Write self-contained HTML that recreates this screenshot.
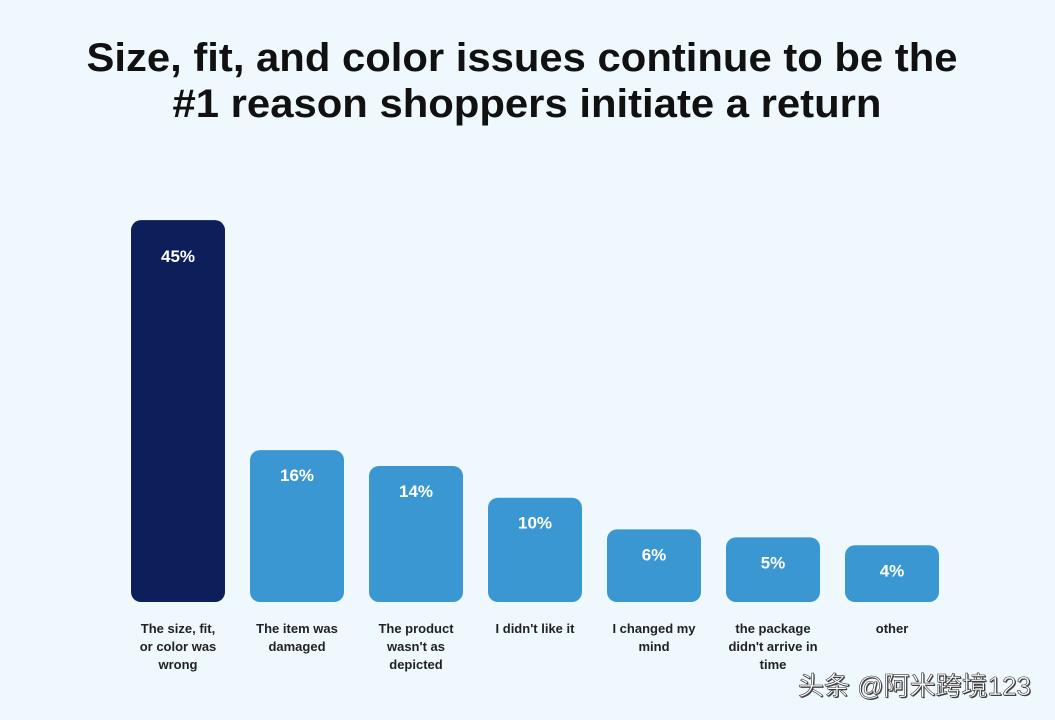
<!DOCTYPE html>
<html><head><meta charset="utf-8"><style>
html,body{margin:0;padding:0;background:#eef8fd;}
svg{display:block;font-family:"Liberation Sans","Noto Sans CJK SC",sans-serif;}
</style></head><body>
<svg width="1055" height="720" viewBox="0 0 1055 720">
<rect width="1055" height="720" fill="#eef8fd"/>
<text x="522" y="71" text-anchor="middle" font-size="40" font-weight="bold" fill="#111" textLength="871" lengthAdjust="spacingAndGlyphs">Size, fit, and color issues continue to be the</text>
<text x="527" y="117" text-anchor="middle" font-size="40" font-weight="bold" fill="#111" textLength="709" lengthAdjust="spacingAndGlyphs">#1 reason shoppers initiate a return</text>
<g id="bars"></g>
<text x="1031" y="695" text-anchor="end" font-size="26" fill="#444" transform="translate(1,1)">头条 @阿米跨境123</text>
<text x="1031" y="695" text-anchor="end" font-size="26" fill="#fff" stroke="#333" stroke-width="0.6">头条 @阿米跨境123</text>
</svg>
<script>
const categories=[["The size, fit,","or color was","wrong"],["The item was","damaged"],["The product","wasn't as","depicted"],["I didn't like it"],["I changed my","mind"],["the package","didn't arrive in","time"],["other"]];
const values=[45,16,14,10,6,5,4];
const valueLabels=["45%","16%","14%","10%","6%","5%","4%"];
const NS="http://www.w3.org/2000/svg";
const g=document.getElementById('bars');
const baseY=602, x0=131, step=119, bw=94;
function yScale(v){return baseY-(25+7.93*v);}
values.forEach((v,i)=>{
  const x=x0+i*step, y=yScale(v);
  const r=document.createElementNS(NS,'rect');
  r.setAttribute('x',x);r.setAttribute('y',y);r.setAttribute('width',bw);r.setAttribute('height',baseY-y);
  r.setAttribute('rx',10);r.setAttribute('fill',i===0?'#0c1f5b':'#3b97d1');
  
  
  g.appendChild(r);
  const t=document.createElementNS(NS,'text');
  t.setAttribute('x',x+bw/2);t.setAttribute('y',y+(v>30?42:31));t.setAttribute('text-anchor','middle');
  t.setAttribute('font-size','17');t.setAttribute('font-weight','bold');t.setAttribute('fill','#fff');
  t.textContent=valueLabels[i];
  
  
  g.appendChild(t);
  categories[i].forEach((line,j)=>{
    const c=document.createElementNS(NS,'text');
    c.setAttribute('x',x+bw/2);c.setAttribute('y',633+j*18);c.setAttribute('text-anchor','middle');
    c.setAttribute('font-size','13');c.setAttribute('font-weight','bold');c.setAttribute('fill','#222');
    c.textContent=line;
    
    
    g.appendChild(c);
  });
});
</script>
</body></html>
